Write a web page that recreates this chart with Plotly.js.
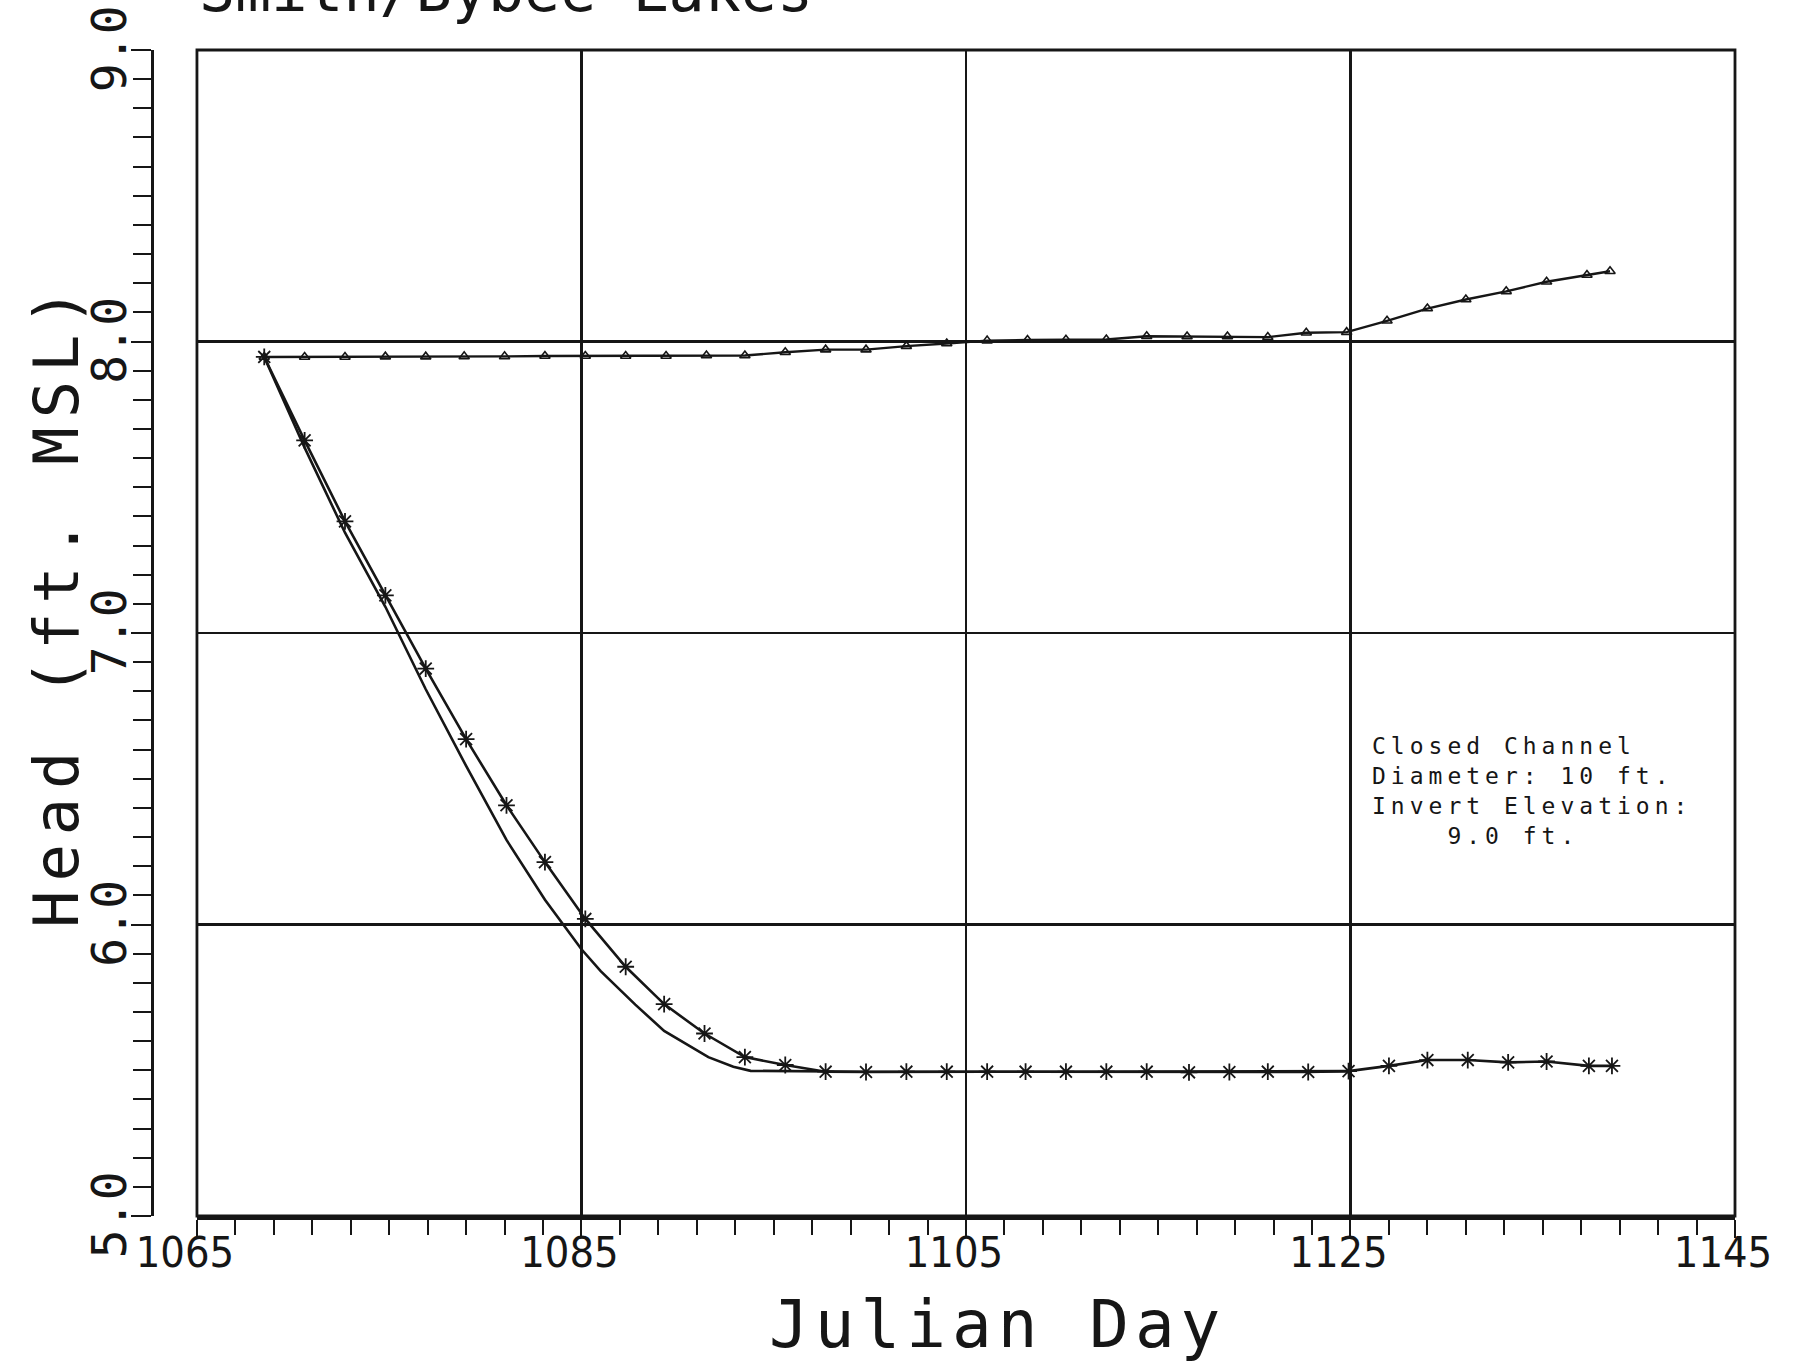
<!DOCTYPE html>
<html>
<head>
<meta charset="utf-8">
<script src="https://cdn.plot.ly/plotly-3.0.1.min.js"></script>
<style>
html,body{margin:0;padding:0;background:#fff;}
#chart{width:1810px;height:1362px;}
.annotation[data-index="0"] text{letter-spacing:5px;}
.annotation[data-index="2"] text{letter-spacing:6px;}
.annotation[data-index="3"] text{letter-spacing:9px;}
</style>
</head>
<body>
<div id="chart"></div>
<script>
// Upper series (triangle markers)
const dayA  = [1068.5,1070.6,1072.7,1074.8,1076.9,1078.9,1081.0,1083.1,1085.2,1087.3,1089.4,1091.5,1093.5,1095.6,1097.7,1099.8,1101.9,1104.0,1106.1,1108.2,1110.2,1112.3,1114.4,1116.5,1118.6,1120.7,1122.7,1124.8,1126.9,1129.0,1131.0,1133.1,1135.2,1137.3,1138.5];
const headA = [7.947,7.947,7.947,7.948,7.948,7.949,7.949,7.950,7.950,7.950,7.950,7.952,7.952,7.963,7.972,7.972,7.984,7.993,8.003,8.005,8.006,8.007,8.018,8.017,8.017,8.015,8.030,8.032,8.071,8.113,8.144,8.172,8.205,8.228,8.241];

// Falling series with asterisk markers
const dayB  = [1068.5,1070.6,1072.7,1074.8,1076.9,1079.0,1081.1,1083.1,1085.2,1087.3,1089.3,1091.4,1093.5,1095.6,1097.7,1099.8,1101.9,1104.0,1106.1,1108.1,1110.2,1112.3,1114.4,1116.6,1118.7,1120.7,1122.8,1124.9,1127.0,1129.0,1131.1,1133.2,1135.2,1137.4,1138.6];
const headB = [7.947,7.661,7.383,7.129,6.878,6.636,6.409,6.214,6.019,5.855,5.727,5.626,5.545,5.518,5.495,5.494,5.495,5.495,5.495,5.495,5.495,5.495,5.495,5.493,5.494,5.495,5.494,5.497,5.515,5.535,5.535,5.527,5.530,5.515,5.515];

// Falling series without markers
const dayC  = [1068.5,1070.6,1072.7,1074.8,1076.9,1079.0,1081.1,1083.1,1085.0,1086.0,1087.8,1089.3,1091.6,1092.9,1093.8,1100.0,1110.0,1124.9];
const headC = [7.947,7.636,7.344,7.090,6.807,6.544,6.290,6.085,5.915,5.840,5.725,5.635,5.545,5.512,5.498,5.495,5.495,5.497];

const xTickVals   = [1065,1085,1105,1125,1145];
const xTickLabels = ['1065','1085','1105','1125','1145'];
const yTickVals   = [5,6,7,8,9];
const yTickLabels = ['5.0','6.0','7.0','8.0','9.0'];

const noteLines = ['Closed Channel','Diameter: 10 ft.','Invert Elevation:','\u00a0\u00a0\u00a0\u00a09.0 ft.'];
const topTitle = 'Smith/Bybee Lakes';
const xTitle = 'Julian Day';
const yTitle = 'Head (ft. MSL)';

const ink = '#161616';
const mono = 'DejaVu Sans Mono, monospace';
const narrow = 'DejaVu Sans Condensed, Liberation Sans Narrow, Liberation Sans, sans-serif';

const traces = [
  {x: dayA, y: headA, mode: 'lines+markers', line: {color: ink, width: 2.4},
   marker: {symbol: 'triangle-up-open', size: 9, color: ink, line: {color: ink, width: 1.6}}, hoverinfo: 'x+y'},
  {x: dayC, y: headC, mode: 'lines', line: {color: ink, width: 2.6}, hoverinfo: 'x+y'},
  {x: dayB, y: headB, mode: 'lines+markers', line: {color: ink, width: 2.6},
   marker: {symbol: 'asterisk-open', size: 14, color: ink, line: {color: ink, width: 1.8}}, hoverinfo: 'x+y'}
];

const layout = {
  width: 1810, height: 1362,
  paper_bgcolor: '#fff', plot_bgcolor: '#fff',
  showlegend: false,
  margin: {l: 152, r: 75, t: 50, b: 146},
  font: {family: mono, color: ink},
  xaxis: {
    domain: [0.0284, 1],
    range: [1065, 1145],
    tickmode: 'array', tickvals: xTickVals, ticktext: xTickLabels,
    ticks: 'outside', ticklen: 18, tickwidth: 2, tickcolor: ink,
    minor: {tick0: 1065, dtick: 2, ticks: 'outside', ticklen: 15, tickwidth: 2, tickcolor: ink, showgrid: false},
    showgrid: true, gridcolor: ink, gridwidth: 2.2,
    zeroline: false,
    showline: true, linewidth: 3.5, linecolor: ink,
    tickfont: {family: narrow, size: 43, color: ink},
    ticklabelstandoff: -22, ticklabelshift: -12,
    ticklabeloverflow: 'allow',
    automargin: false
  },
  yaxis: {
    anchor: 'free', position: 0,
    range: [5, 9],
    tickmode: 'array', tickvals: yTickVals, ticktext: yTickLabels,
    tickangle: -90,
    ticks: 'outside', ticklen: 20, tickwidth: 2, tickcolor: ink,
    minor: {tick0: 5, dtick: 0.1, ticks: 'outside', ticklen: 18, tickwidth: 2, tickcolor: ink, showgrid: false},
    showgrid: true, gridcolor: ink, gridwidth: 2.2,
    zeroline: false,
    showline: true, linewidth: 3, linecolor: ink,
    tickfont: {family: mono, size: 48, color: ink},
    ticklabelstandoff: -14, ticklabelshift: 6,
    ticklabeloverflow: 'allow',
    automargin: false
  },
  shapes: [
    {type: 'rect', xref: 'x domain', yref: 'y domain', x0: 0, x1: 1, y0: 0, y1: 1,
     line: {color: ink, width: 2.8}, fillcolor: 'rgba(0,0,0,0)', layer: 'above'}
  ],
  annotations: [
    {text: noteLines.join('<br>'), xref: 'x', yref: 'y', x: 1126.0, y: 6.665,
     xanchor: 'left', yanchor: 'top', align: 'left', showarrow: false,
     font: {family: mono, size: 23, color: ink}},
    {text: topTitle, xref: 'paper', yref: 'paper', x: 0.0284, y: 1.02,
     xanchor: 'left', yanchor: 'bottom', showarrow: false,
     font: {family: mono, size: 60, color: ink}},
    {text: xTitle, xref: 'paper', yref: 'paper', x: 0.5344, y: -0.058,
     xanchor: 'center', yanchor: 'top', showarrow: false,
     font: {family: mono, size: 66, color: ink}},
    {text: yTitle, xref: 'paper', yref: 'paper', x: -0.0607, y: 0.5257,
     xanchor: 'center', yanchor: 'middle', textangle: -90, showarrow: false,
     font: {family: mono, size: 62, color: ink}}
  ]
};

Plotly.newPlot('chart', traces, layout, {staticPlot: true, displayModeBar: false});
</script>
</body>
</html>
